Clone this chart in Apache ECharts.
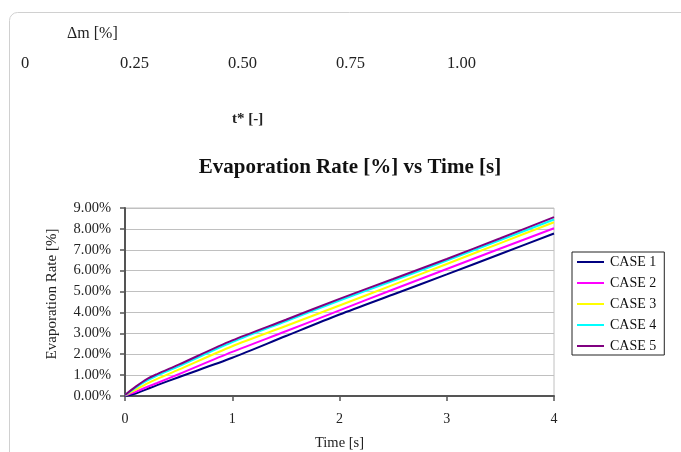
<!DOCTYPE html>
<html><head><meta charset="utf-8">
<script src="https://cdn.jsdelivr.net/npm/echarts@6/dist/echarts.min.js"></script>
<style>html,body{margin:0;padding:0;background:#fff}#c{width:681px;height:452px}</style>
</head><body><div id="c"></div>
<script>
const times = [0, 0.1, 0.2, 0.3, 0.5, 1, 1.5, 2, 2.5, 3, 3.5, 4];
const seriesNames = ['CASE 1', 'CASE 2', 'CASE 3', 'CASE 4', 'CASE 5'];
const case1 = [0, 0.12, 0.32, 0.52, 0.9, 1.83, 2.87, 3.9, 4.86, 5.82, 6.8, 7.78];
const case2 = [0.02, 0.2, 0.42, 0.62, 1.04, 2.11, 3.1, 4.1, 5.1, 6.08, 7.06, 8.03];
const case3 = [0.03, 0.3, 0.58, 0.82, 1.26, 2.38, 3.35, 4.33, 5.32, 6.32, 7.32, 8.32];
const case4 = [0.04, 0.4, 0.72, 0.98, 1.42, 2.58, 3.58, 4.57, 5.52, 6.48, 7.46, 8.45];
const case5 = [0.05, 0.45, 0.8, 1.05, 1.5, 2.66, 3.65, 4.65, 5.6, 6.56, 7.55, 8.56];
const topTickLabels = ['0', '0.25', '0.50', '0.75', '1.00'];
const colors = ['#000080', '#ff00ff', '#ffff00', '#00ffff', '#800080'];

const allCases = [case1, case2, case3, case4, case5];
const serif = '"Liberation Serif", "Times New Roman", serif';
const chart = echarts.init(document.getElementById('c'));
const topX = [21, 120, 228, 336, 447];
const graphics = [
  {type: 'rect', shape: {x: 9.5, y: 12.5, width: 700, height: 470, r: 8}, style: {fill: 'none', stroke: '#d0d0d0', lineWidth: 1}},
  {type: 'text', left: 67, top: 26, style: {text: 'Δm [%]', font: '16px ' + serif, fill: '#222'}},
  {type: 'text', left: 232, top: 112, style: {text: 't* [-]', font: 'bold 15px ' + serif, fill: '#222'}},
  {type: 'text', x: 52, y: 294, rotation: Math.PI / 2,
    style: {text: 'Evaporation Rate [%]', font: '15px ' + serif, fill: '#222', align: 'center', verticalAlign: 'middle'}}
];
topTickLabels.forEach((t, i) => graphics.push({type: 'text', left: topX[i], top: 55, style: {text: t, font: '16.5px ' + serif, fill: '#222'}}));

chart.setOption({
  animation: false,
  title: {text: 'Evaporation Rate [%] vs Time [s]', left: 345, top: 152, textAlign: 'center',
    textStyle: {fontFamily: serif, fontWeight: 'bold', fontSize: 21, color: '#111'}},
  graphic: graphics,
  legend: {
    orient: 'vertical', left: 572, top: 252,
    padding: [2, 8, 1, 5], itemGap: 5, itemWidth: 27, itemHeight: 16,
    borderColor: '#222', borderWidth: 1,
    icon: 'path://M0,7 L27,7 L27,9 L0,9 Z',
    textStyle: {fontFamily: serif, fontSize: 14, color: '#111', padding: [0, 0, 0, 1], lineHeight: 21, height: 16},
    data: seriesNames
  },
  grid: {left: 125, top: 208, width: 429, height: 191, show: true, borderColor: '#c0c0c0', borderWidth: 1, backgroundColor: 'transparent'},
  xAxis: {
    type: 'value', min: 0, max: 4, interval: 1,
    name: 'Time [s]', nameLocation: 'middle', nameGap: 40,
    nameTextStyle: {fontFamily: serif, fontSize: 14.5, color: '#222'},
    axisLine: {lineStyle: {color: '#555', width: 2}},
    axisTick: {show: true, length: 5, lineStyle: {color: '#555', width: 1.5}},
    axisLabel: {fontFamily: serif, fontSize: 14, color: '#222', margin: 16},
    splitLine: {show: false}
  },
  yAxis: {
    type: 'value', min: 0, max: 9, interval: 1,
    axisLine: {show: true, lineStyle: {color: '#555', width: 2}},
    axisTick: {show: true, length: 5, lineStyle: {color: '#555', width: 1.5}},
    axisLabel: {fontFamily: serif, fontSize: 14.5, color: '#222', margin: 14, formatter: v => v.toFixed(2) + '%'},
    splitLine: {lineStyle: {color: '#c0c0c0', width: 1}}
  },
  series: allCases.map((d, i) => ({
    name: seriesNames[i], type: 'line', smooth: 0.3, showSymbol: false,
    color: colors[i], lineStyle: {width: 2, color: colors[i]},
    data: times.map((t, j) => [t, d[j]])
  }))
});
</script></body></html>
